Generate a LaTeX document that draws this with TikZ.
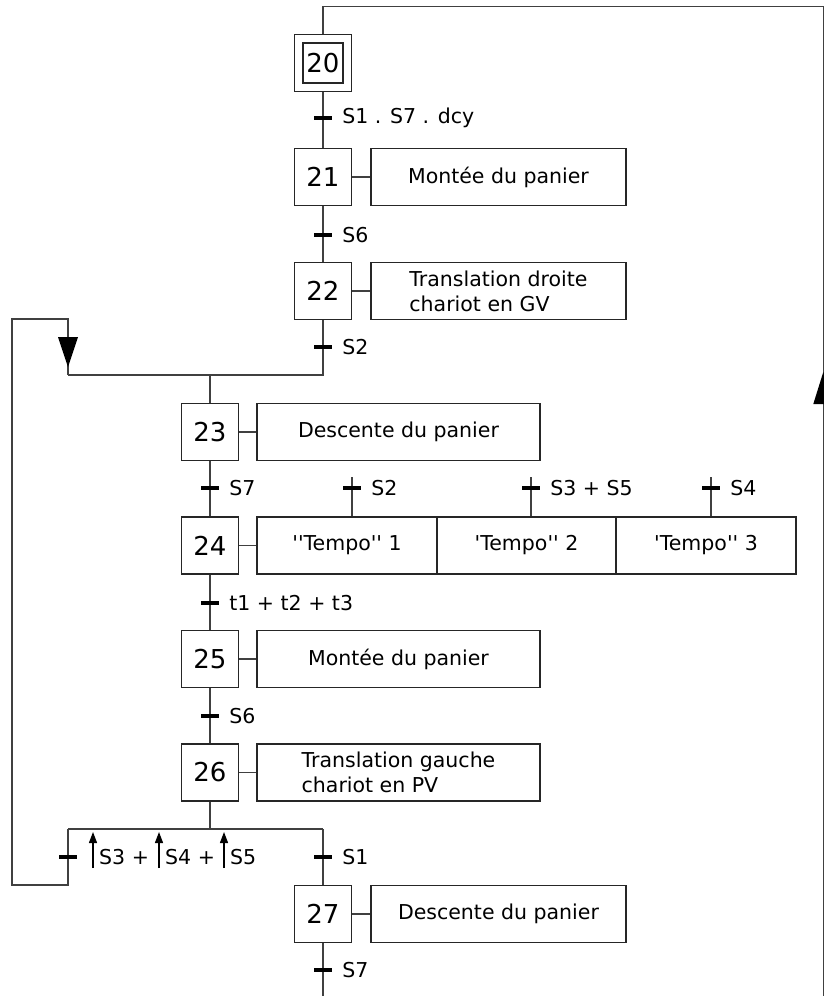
\documentclass[tikz,border=0pt]{standalone}
\usepackage{fontspec}
\setmainfont{DejaVu Sans}
\usetikzlibrary{arrows.meta}
\newcommand{\tq}{\textquotesingle}
\begin{document}
\begin{tikzpicture}[x=1pt,y=-1pt,
  link/.style={draw=black!75, line width=1.2pt},
  stepbox/.style={draw=black!85, line width=1.1pt, minimum width=57pt, minimum height=57pt,
    inner sep=0pt, font=\fontsize{26}{26}\selectfont},
  initbox/.style={draw=black!85, line width=1.1pt, minimum width=40pt, minimum height=40pt,
    inner sep=0pt, font=\fontsize{26}{26}\selectfont},
  actbox/.style={draw=black!85, line width=1.1pt, minimum height=57pt, inner sep=0pt,
    align=left, font=\fontsize{20.5}{25}\selectfont},
  tbar/.style={fill=black, minimum width=18pt, minimum height=3.6pt, inner sep=0pt},
  tlabel/.style={anchor=west, inner sep=0pt, font=\fontsize{20.5}{20}\selectfont},
  edge/.style={line width=1.3pt, -{Triangle[length=11pt,width=8pt]}},
]
\useasboundingbox (0,0) rectangle (824,996);

% ---- steps ----
\node[stepbox] (s20) at (323,63) {};
\node[initbox] (s20i) at (323,63) {20};
\node[stepbox] (s21) at (323,177) {21};
\node[stepbox] (s22) at (323,291) {22};
\node[stepbox] (s23) at (210,432) {23};
\node[stepbox] (s24) at (210,545.5) {24};
\node[stepbox] (s25) at (210,659) {25};
\node[stepbox] (s26) at (210,772.5) {26};
\node[stepbox] (s27) at (323,914) {27};

% ---- actions ----
\node[actbox, minimum width=255pt] (a21) at (498.5,177) {Montée du panier};
\node[actbox, minimum width=255pt] (a22) at (498.5,291) {Translation droite\\chariot en GV};
\node[actbox, minimum width=283pt] (a23) at (398.5,432) {Descente du panier};
\node[actbox, minimum width=180pt] (a24a) at (347,545.5) {\tq\tq Tempo\tq\tq\ 1};
\node[actbox, minimum width=179pt] (a24b) at (526.5,545.5) {\tq Tempo\tq\tq\ 2};
\node[actbox, minimum width=180pt] (a24c) at (706,545.5) {\tq Tempo\tq\tq\ 3};
\node[actbox, minimum width=283pt] (a25) at (398.5,659) {Montée du panier};
\node[actbox, minimum width=283pt] (a26) at (398.5,772.5) {Translation gauche\\chariot en PV};
\node[actbox, minimum width=255pt] (a27) at (498.5,914) {Descente du panier};

\foreach \s in {21,22,23,24,25,26,27} \draw[link] (s\s.east) -- (a\s\ifnum\s=24 a\fi.west);

% ---- junction points ----
\coordinate (top)  at (323,6.5);
\coordinate (rtop) at (823.3,6.5);
\coordinate (rbot) at (823.3,1000);
\coordinate (bot)  at (323,1000);
\coordinate (cL)   at (68,375);
\coordinate (cM)   at (210,375);
\coordinate (dL)   at (68,829);
\coordinate (dM)   at (210,829);
\coordinate (dR)   at (323,829);
\coordinate (lb)   at (68,885);
\coordinate (lbl)  at (12,885);
\coordinate (ltl)  at (12,319);
\coordinate (lt)   at (68,319);
\coordinate (p1)   at (352,477);
\coordinate (p2)   at (531,477);
\coordinate (p3)   at (711,477);

% ---- links ----
\draw[link] (rbot) -- (rtop) -- (top) -- (s20.north);
\draw[link] (s20.south) -- (s21.north);
\draw[link] (s21.south) -- (s22.north);
\draw[link] (s22.south) |- (cL);
\draw[link] (cM) -- (s23.north);
\draw[link] (s23.south) -- (s24.north);
\draw[link] (s24.south) -- (s25.north);
\draw[link] (s25.south) -- (s26.north);
\draw[link] (s26.south) -- (dM);
\draw[link] (dL) -- (dR);
\draw[link] (dR) -- (s27.north);
\draw[link] (s27.south) -- (bot);
\draw[link] (dL) -- (lb) -- (lbl) -- (ltl) -- (lt) -- (cL);
\draw[link] (p1) -- (p1 |- a24a.north);
\draw[link] (p2) -- (p2 |- a24b.north);
\draw[link] (p3) -- (p3 |- a24c.north);

% ---- direction arrows on the loops ----
\fill[black] (58,337) -- (78,337) -- (68,367) -- cycle;
\fill[black] (813.3,404) -- (833.3,404) -- (823.3,372) -- cycle;

% ---- transitions ----
\node[tbar] (t1) at (323,118) {};
\node[tbar] (t2) at (323,235) {};
\node[tbar] (t3) at (323,347) {};
\node[tbar] (t4) at (210,488) {};
\node[tbar] (t4a) at (352,488) {};
\node[tbar] (t4b) at (531,488) {};
\node[tbar] (t4c) at (711,488) {};
\node[tbar] (t5) at (210,603) {};
\node[tbar] (t6) at (210,716) {};
\node[tbar] (t7) at (68,857) {};
\node[tbar] (t8) at (323,857) {};
\node[tbar] (t9) at (323,970) {};

\node[tlabel] at ([xshift=10pt]t1.east) {S1 . S7 . dcy};
\node[tlabel] at ([xshift=10pt]t2.east) {S6};
\node[tlabel] at ([xshift=10pt]t3.east) {S2};
\node[tlabel] at ([xshift=10pt]t4.east) {S7};
\node[tlabel] at ([xshift=10pt]t4a.east) {S2};
\node[tlabel] at ([xshift=10pt]t4b.east) {S3 + S5};
\node[tlabel] at ([xshift=10pt]t4c.east) {S4};
\node[tlabel] at ([xshift=10pt]t5.east) {t1 + t2 + t3};
\node[tlabel] at ([xshift=10pt]t6.east) {S6};
\node[tlabel] at ([xshift=10pt]t8.east) {S1};
\node[tlabel] at ([xshift=10pt]t9.east) {S7};

% rising-edge receptivity
\coordinate (e1) at (93,868);
\coordinate (e2) at (159,868);
\coordinate (e3) at (224,868);
\draw[edge] (e1) -- ++(0,-36);
\draw[edge] (e2) -- ++(0,-36);
\draw[edge] (e3) -- ++(0,-36);
\node[tlabel] (r1) at (99,857) {S3 +};
\node[tlabel] (r2) at (165,857) {S4 +};
\node[tlabel] (r3) at (230,857) {S5};
\end{tikzpicture}
\end{document}
